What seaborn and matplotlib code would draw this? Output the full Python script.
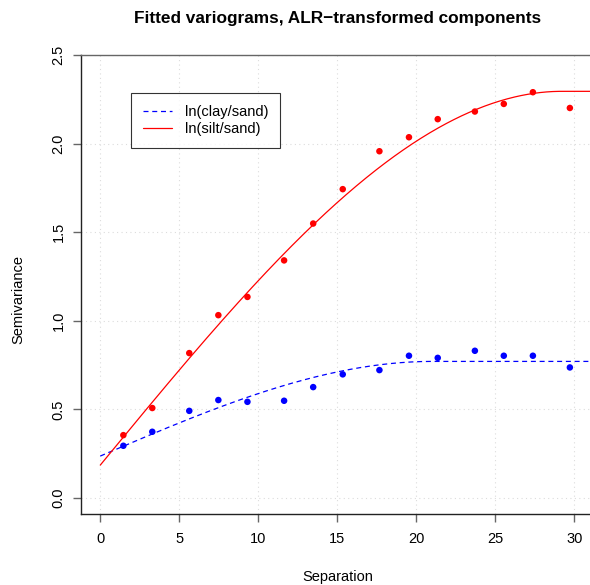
import numpy as np
import pandas as pd
import matplotlib
matplotlib.use("Agg")
import matplotlib.pyplot as plt
import seaborn as sns

# Empirical semivariances at the lag-bin centres
separation = [1.46, 3.29, 5.63, 7.47, 9.31, 11.63, 13.47, 15.34,
              17.66, 19.53, 21.35, 23.70, 25.53, 27.37, 29.71]
gamma_clay = [0.295, 0.374, 0.492, 0.553, 0.543, 0.549, 0.626, 0.698,
              0.722, 0.803, 0.791, 0.831, 0.803, 0.803, 0.737]
gamma_silt = [0.355, 0.508, 0.818, 1.032, 1.135, 1.341, 1.549, 1.743,
              1.957, 2.036, 2.138, 2.181, 2.224, 2.290, 2.201]

series_names = ["ln(clay/sand)", "ln(silt/sand)"]
series_colors = ["blue", "red"]

# Fitted spherical models: nugget, total sill, range
nugget = [0.237, 0.186]
sill = [0.771, 2.295]
model_range = [21.0, 29.2]

x_ticks = [0, 5, 10, 15, 20, 25, 30]
y_ticks = [0.0, 0.5, 1.0, 1.5, 2.0, 2.5]


def spherical(h, c0, c, a):
    h = np.asarray(h, dtype=float)
    r = np.minimum(h / a, 1.0)
    return c0 + (c - c0) * (1.5 * r - 0.5 * r ** 3)


sns.set_style("white")
plt.rcParams["font.family"] = ["Liberation Sans", "DejaVu Sans"]
plt.rcParams["axes.unicode_minus"] = True
plt.rcParams["text.color"] = "black"

points = pd.DataFrame({
    "separation": separation * 2,
    "gamma": gamma_clay + gamma_silt,
    "series": [series_names[0]] * len(separation) + [series_names[1]] * len(separation),
})

h_grid = np.linspace(0, 32, 400)
curves = pd.DataFrame({
    "separation": np.concatenate([h_grid, h_grid]),
    "gamma": np.concatenate([
        spherical(h_grid, nugget[0], sill[0], model_range[0]),
        spherical(h_grid, nugget[1], sill[1], model_range[1]),
    ]),
    "series": [series_names[0]] * len(h_grid) + [series_names[1]] * len(h_grid),
})

fig = plt.figure(figsize=(5.9, 5.85), dpi=100)
ax = fig.add_axes([81 / 590, (585 - 514) / 585, (595 - 81) / 590, (514 - 55) / 585])

palette = dict(zip(series_names, series_colors))

# dotted reference grid
for xv in x_ticks:
    ax.axvline(xv, color="#dcdcdc", lw=0.8, ls=(0, (1, 3)), zorder=0)
for yv in y_ticks:
    ax.axhline(yv, color="#dcdcdc", lw=0.8, ls=(0, (1, 3)), zorder=0)

sns.lineplot(data=curves, x="separation", y="gamma", hue="series",
             palette=palette, style="series",
             dashes={series_names[0]: (4, 3), series_names[1]: ""},
             lw=0.9, ax=ax, legend=False, zorder=2)
sns.scatterplot(data=points, x="separation", y="gamma", hue="series",
                palette=palette, s=22, linewidth=0, ax=ax, legend=False, zorder=3)

ax.set_xlim(-1.22, 31.3)
ax.set_ylim(-0.09, 2.5)
ax.set_xticks(x_ticks)
ax.set_yticks(y_ticks)
ax.set_yticklabels([f"{v:.1f}" for v in y_ticks], rotation=90, va="center")

ax.tick_params(axis="both", which="major", direction="out", length=6, width=1.0,
               color="#666666", labelsize=10.5, labelcolor="black",
               bottom=True, left=True)
ax.tick_params(axis="x", pad=7)
ax.tick_params(axis="y", pad=5)

for side in ["left", "bottom"]:
    ax.spines[side].set_color("#222222")
    ax.spines[side].set_linewidth(1.0)
ax.spines["top"].set_color("#666666")
ax.spines["top"].set_linewidth(1.0)
ax.spines["right"].set_visible(False)

ax.set_xlabel("")
ax.set_ylabel("")
fig.text(338 / 590, 1 - 577 / 585, "Separation", ha="center", va="center", fontsize=10.5)
fig.text(18 / 590, 1 - 300 / 585, "Semivariance", ha="center", va="center",
         rotation=90, fontsize=10.5)
fig.text(338 / 590, 1 - 19 / 585, "Fitted variograms, ALR\u2212transformed components",
         ha="center", va="center", fontsize=12.4, fontweight="bold")

line_handles = [
    plt.Line2D([], [], color=series_colors[0], lw=0.9, ls=(0, (4, 3))),
    plt.Line2D([], [], color=series_colors[1], lw=0.9),
]
leg = ax.legend(line_handles, series_names, loc="upper left",
                bbox_to_anchor=(131 / 590, 1 - 93 / 585), bbox_transform=fig.transFigure,
                frameon=True, fancybox=False, fontsize=10.5, handlelength=2.0,
                handletextpad=0.9, borderpad=0.8, labelspacing=0.25, borderaxespad=0)
leg.get_frame().set_edgecolor("black")
leg.get_frame().set_linewidth(0.8)

fig.savefig("out.png", dpi=100)
